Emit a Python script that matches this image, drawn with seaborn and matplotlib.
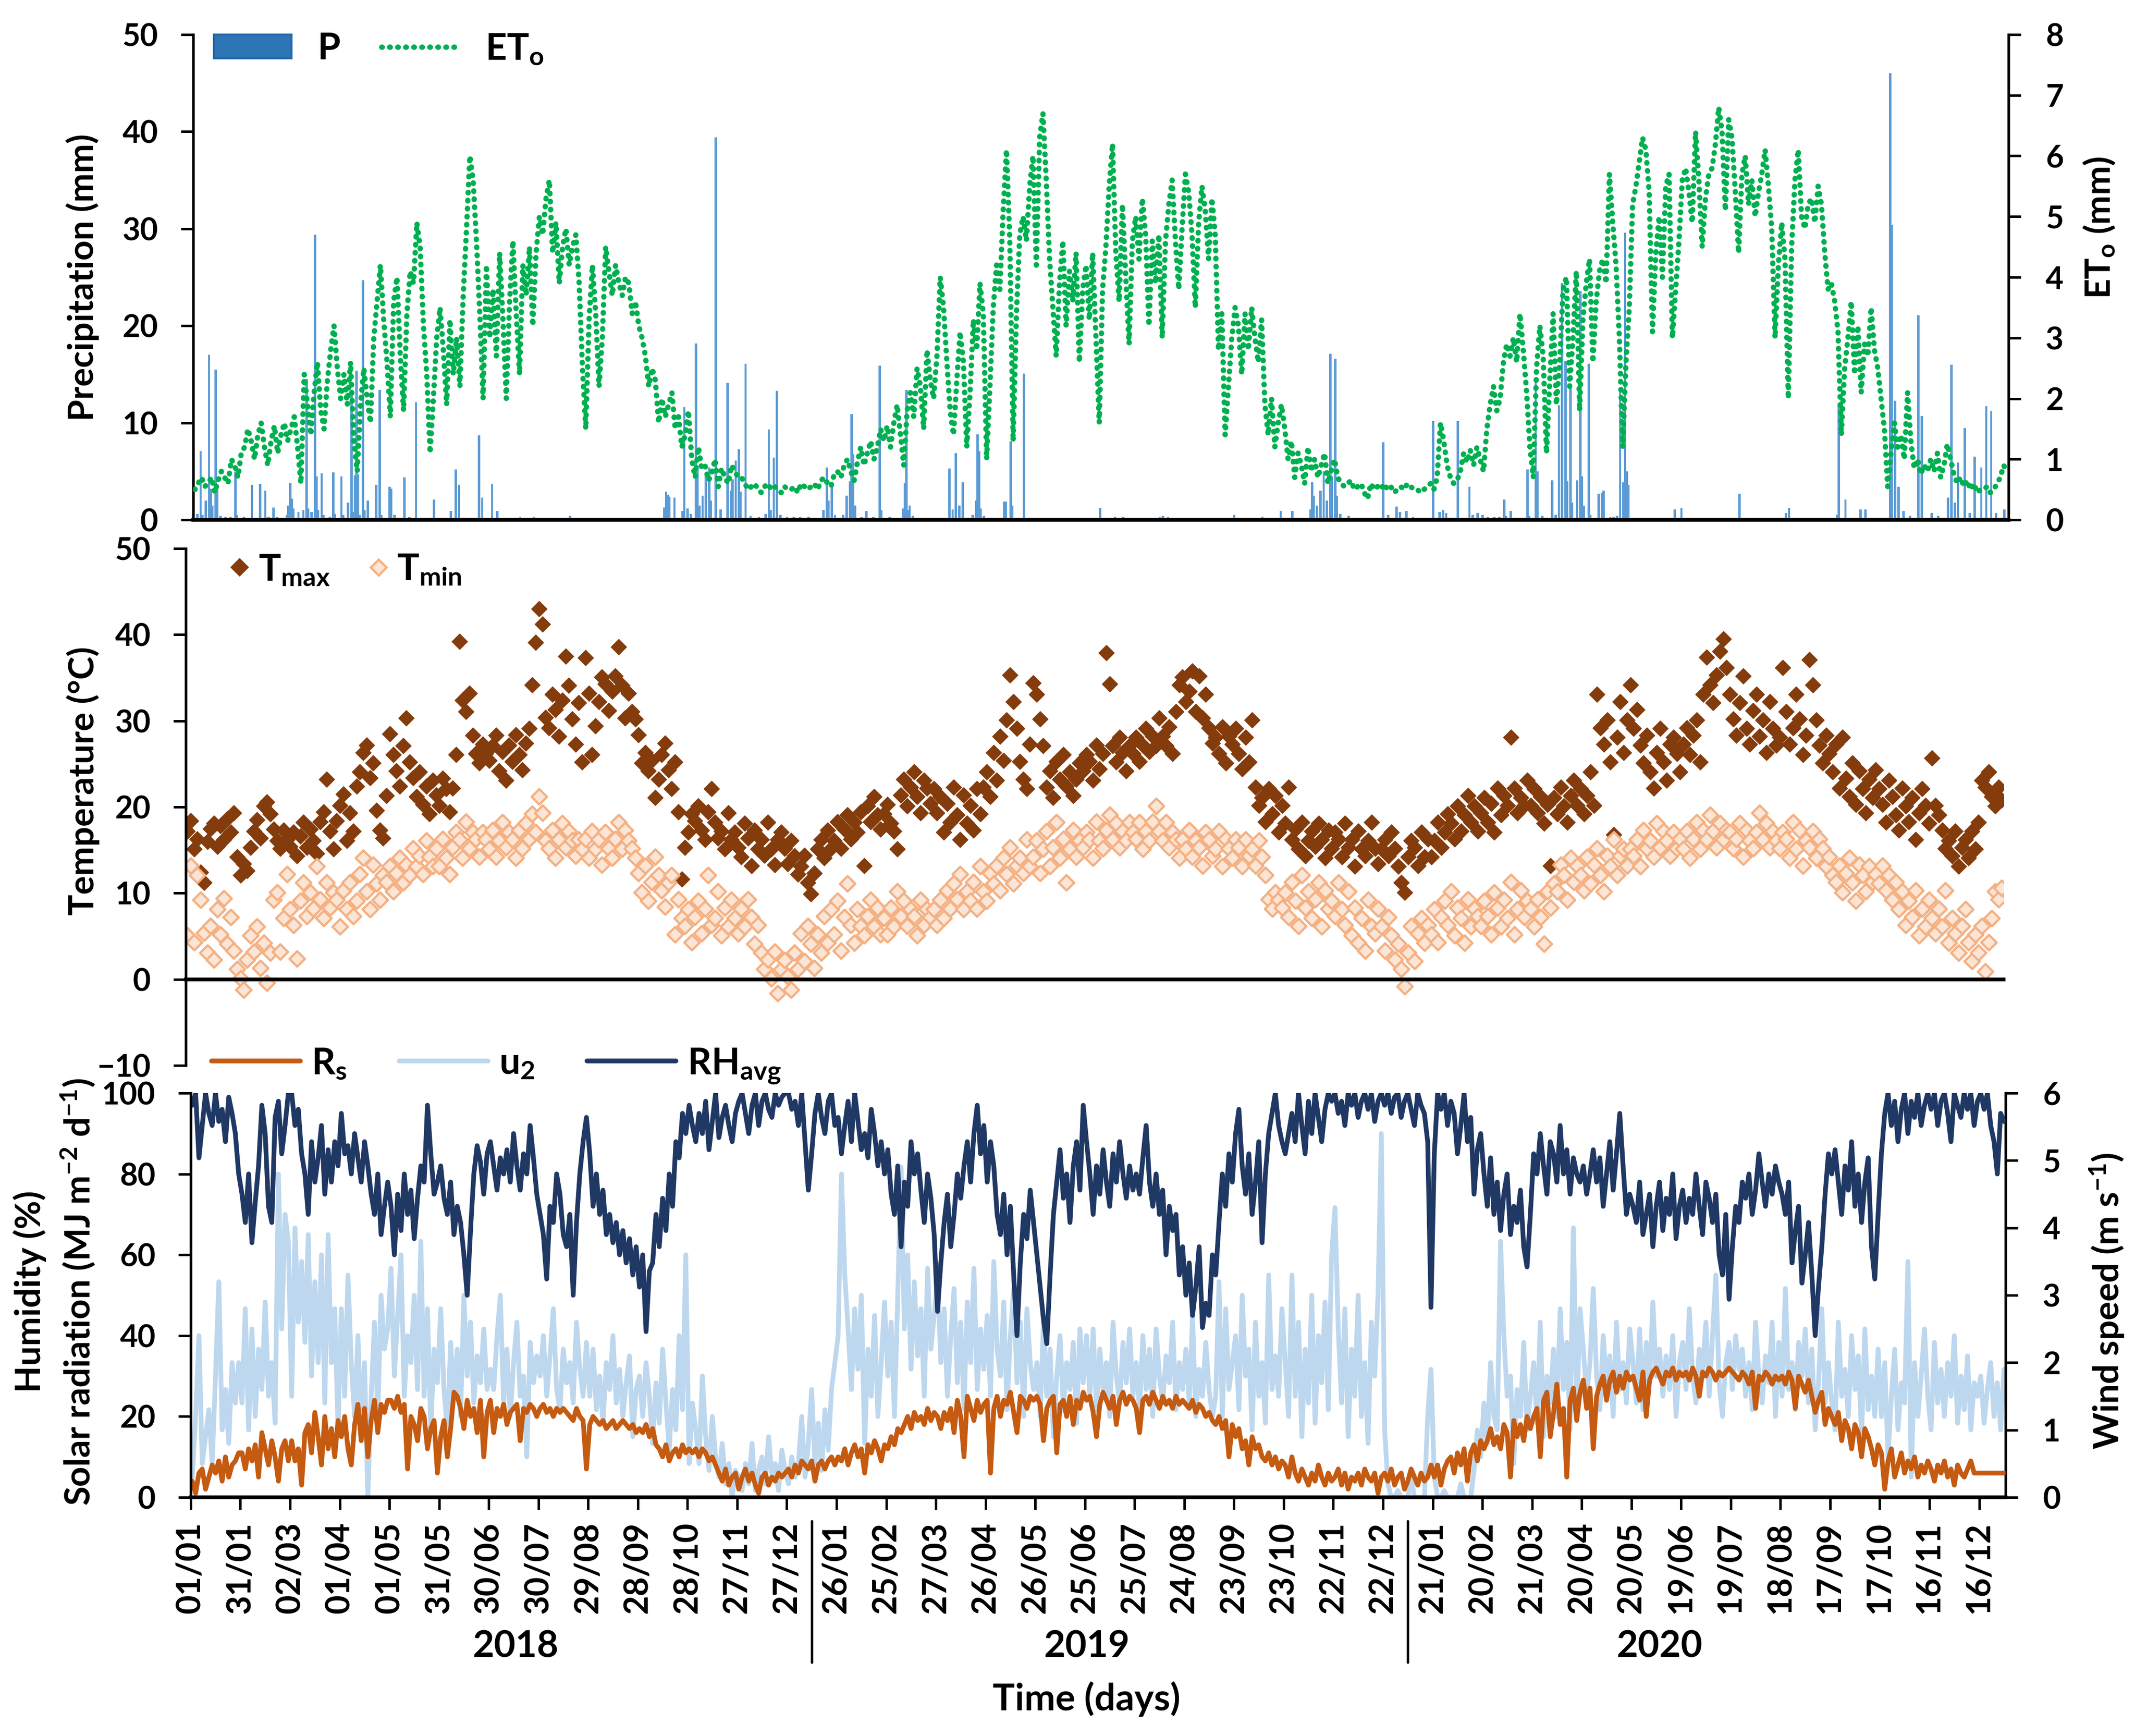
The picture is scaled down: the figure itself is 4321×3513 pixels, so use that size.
import numpy as np
import pandas as pd
import matplotlib
matplotlib.use("Agg")
import matplotlib.pyplot as plt
import matplotlib.transforms as mtransforms
from matplotlib.lines import Line2D
from matplotlib.patches import Patch
import seaborn as sns

# one value every 2 days, one row per 30-day tick interval (01/01/2018 - 31/12/2020)
eto = [
    0.5, 0.6, 0.7, 0.55, 0.6, 0.7, 0.45, 0.65, 0.8, 0.7, 0.6, 1.0, 0.9, 0.7, 1.1,
    1.2, 1.5, 1.3, 1.0, 1.4, 1.6, 1.2, 0.9, 1.3, 1.55, 1.1, 1.4, 1.6, 1.3, 1.5,
    1.7, 1.2, 0.6, 2.4, 1.9, 1.4, 2.1, 2.6, 1.8, 1.5, 2.3, 2.8, 3.2, 2.5, 2.0,
    2.4, 1.9, 2.6, 1.3, 0.8, 1.9, 2.5, 2.0, 1.6, 3.0, 3.6, 4.2, 3.3, 2.6, 1.7,
    3.6, 4.0, 2.7, 1.8, 3.4, 4.1, 3.9, 4.9, 4.5, 3.2, 2.4, 1.1, 2.0, 3.0, 3.5,
    2.8, 1.9, 3.3, 2.4, 3.0, 2.2, 3.7, 4.8, 6.0, 5.6, 4.6, 3.4, 2.0, 4.2, 3.0,
    3.8, 2.7, 4.4, 3.3, 2.0, 3.6, 4.6, 3.4, 2.4, 4.2, 3.7, 4.5, 3.2, 4.4, 5.0,
    4.7, 5.3, 5.6, 4.4, 4.9, 3.9, 4.5, 4.8, 4.2, 4.5, 4.7, 3.9, 2.5, 1.5, 3.3,
    4.2, 3.4, 2.2, 3.0, 4.5, 4.1, 3.7, 4.2, 3.9, 3.7, 4.0, 3.9, 3.4, 3.6, 3.2,
    3.0, 2.7, 2.2, 2.5, 2.3, 1.6, 2.0, 1.7, 1.9, 2.1, 1.5, 1.7, 1.2, 1.4, 1.8,
    1.0, 0.7, 1.2, 0.85, 0.9, 0.65, 0.75, 1.0, 0.55, 0.85, 0.7, 0.6, 0.9, 0.8, 0.7,
    0.7, 0.6, 0.5, 0.55, 0.6, 0.5, 0.45, 0.55, 0.6, 0.5, 0.55, 0.5, 0.45, 0.55, 0.5,
    0.5, 0.55, 0.45, 0.6, 0.55, 0.5, 0.55, 0.6, 0.5, 0.65, 0.7, 0.6, 0.55, 0.75, 0.8,
    0.7, 0.9, 1.0, 0.8, 0.65, 0.95, 1.2, 0.9, 1.1, 1.3, 1.0, 1.2, 1.5, 1.3, 1.55,
    1.2, 1.6, 1.9, 1.4, 0.9, 1.8, 2.1, 1.7, 2.5, 2.2, 1.5, 2.8, 2.3, 2.0, 2.7,
    4.0, 3.5, 2.6, 1.8, 1.4, 2.3, 3.1, 2.6, 1.2, 2.1, 3.3, 2.8, 3.9, 3.4, 1.0,
    2.2, 3.5, 4.2, 3.8, 5.1, 6.1, 4.6, 1.3, 3.4, 4.7, 5.0, 4.6, 5.5, 6.0, 4.2,
    6.3, 6.7, 5.6, 4.3, 3.5, 2.7, 3.9, 4.6, 3.2, 4.1, 3.6, 4.4, 2.6, 3.8, 4.2,
    3.3, 4.4, 3.0, 1.6, 3.8, 4.5, 5.5, 6.2, 4.4, 3.6, 5.2, 4.0, 2.9, 4.6, 5.0,
    4.3, 5.3, 4.7, 3.2, 4.6, 3.9, 4.7, 3.0, 4.6, 5.2, 5.6, 4.6, 3.8, 4.8, 5.7,
    5.4, 4.7, 3.5, 4.9, 5.5, 5.1, 4.3, 5.3, 4.7, 2.8, 3.4, 1.4, 2.2, 3.0, 3.5,
    3.2, 2.4, 3.4, 2.8, 3.5, 3.0, 2.6, 3.3, 1.9, 1.4, 2.0, 1.2, 1.6, 1.9, 1.5,
    1.0, 1.3, 0.7, 1.1, 0.9, 0.6, 1.2, 0.8, 1.0, 0.7, 0.9, 1.1, 0.6, 0.8, 1.0,
    0.7, 0.6, 0.55, 0.6, 0.65, 0.5, 0.55, 0.6, 0.45, 0.35, 0.6, 0.5, 0.55, 0.5, 0.6,
    0.5, 0.55, 0.45, 0.5, 0.55, 0.5, 0.6, 0.55, 0.5, 0.5, 0.45, 0.5, 0.55, 0.6, 0.5,
    0.7, 1.6, 1.3, 0.9, 0.7, 0.6, 0.65, 0.8, 1.1, 0.95, 1.15, 0.9, 1.2, 1.0, 0.8,
    1.5, 1.9, 2.2, 1.8, 2.0, 2.6, 2.9, 2.7, 3.0, 2.6, 3.4, 2.8, 2.1, 1.2, 0.7,
    2.5, 3.2, 2.7, 1.1, 2.3, 3.4, 1.9, 2.6, 3.8, 4.0, 2.2, 3.0, 4.1, 1.8, 3.3,
    3.9, 4.3, 2.6, 3.6, 4.1, 4.3, 3.9, 5.7, 4.9, 4.2, 3.0, 1.2, 2.6, 3.5, 5.2,
    5.5, 5.9, 6.3, 6.1, 5.4, 3.1, 4.4, 5.0, 4.0, 5.5, 5.7, 3.0, 3.8, 4.6, 5.6,
    5.8, 5.4, 4.9, 6.4, 5.6, 4.5, 5.3, 5.7, 5.8, 6.2, 6.8, 6.4, 5.1, 6.6, 6.3,
    5.4, 4.4, 5.7, 6.0, 5.2, 5.6, 5.0, 5.4, 5.7, 6.1, 5.5, 4.8, 3.0, 4.2, 4.9,
    4.3, 2.0, 4.5, 5.6, 6.1, 5.0, 4.8, 5.2, 5.3, 4.9, 5.5, 5.2, 4.4, 3.8, 3.9,
    3.6, 3.1, 1.4, 2.5, 3.0, 3.6, 2.4, 3.2, 2.1, 2.9, 2.7, 3.5, 2.8, 2.5, 2.0,
    1.5, 0.55, 1.1, 1.6, 1.2, 1.4, 1.0, 2.1, 1.3, 0.85, 1.0, 0.75, 0.9, 0.8, 1.0,
    0.8, 1.1, 0.7, 0.9, 1.25, 1.0, 0.75, 0.6, 0.7, 0.55, 0.65, 0.5, 0.6, 0.45, 0.5,
    0.5, 0.55, 0.45, 0.5, 0.6, 0.7, 0.9, 0.8,
]

tmax = [
    17.2, 18.4, 15.1, 16.3, 12.4, 11.2, 16.0, 17.5, 18.1, 15.4, 17.8, 16.2, 18.6, 17.1, 19.3,
    14.2, 12.1, 13.4, 12.6, 15.3, 17.2, 18.5, 16.4, 20.1, 20.6, 19.2, 17.4, 16.1, 15.2, 17.3,
    16.2, 15.4, 17.1, 14.3, 16.6, 18.2, 15.3, 17.4, 16.1, 14.6, 18.3, 19.4, 23.2, 17.2, 15.1,
    18.4, 20.2, 21.5, 16.1, 19.3, 17.2, 22.4, 24.1, 26.3, 27.2, 23.4, 25.1, 19.6, 17.3, 16.4,
    21.3, 28.5, 26.1, 24.2, 22.4, 27.1, 30.3, 25.2, 23.4, 21.2, 24.1, 20.3, 22.4, 19.2, 23.1,
    21.4, 20.2, 23.3, 22.1, 19.4, 22.2, 26.1, 39.2, 32.4, 31.1, 33.2, 28.3, 26.2, 25.1, 27.3,
    26.2, 25.4, 27.1, 28.3, 24.2, 26.4, 23.1, 27.2, 25.3, 28.4, 26.1, 24.3, 27.4, 29.1, 34.2,
    39.1, 43.0, 41.2, 30.4, 29.2, 33.1, 31.3, 28.2, 32.4, 37.5, 34.1, 30.2, 27.3, 32.1, 25.2,
    37.3, 33.2, 26.1, 29.4, 32.2, 35.1, 34.3, 31.2, 33.4, 35.2, 38.6, 34.1, 30.3, 33.2, 31.1,
    30.2, 28.4, 25.1, 26.3, 24.2, 25.4, 21.1, 23.2, 26.1, 27.4, 24.3, 22.1, 25.2, 19.4, 11.6,
    15.3, 17.1, 19.2, 18.4, 20.1, 17.3, 16.2, 19.4, 22.1, 18.2, 16.4, 17.2, 15.1, 19.3, 16.2,
    17.1, 15.3, 14.2, 18.1, 16.4, 13.2, 17.3, 15.1, 16.2, 14.4, 18.2, 15.1, 13.3, 16.2, 17.1,
    15.2, 13.4, 16.1, 14.3, 12.2, 13.1, 14.4, 11.2, 9.9, 12.3, 15.1, 16.2, 14.1, 17.3, 15.2,
    16.1, 18.3, 15.2, 17.4, 19.1, 16.3, 18.2, 17.1, 19.4, 13.2, 20.1, 18.3, 21.2, 19.1, 17.4,
    19.2, 20.3, 18.1, 17.2, 15.1, 21.4, 23.2, 20.1, 22.3, 24.1, 21.2, 19.3, 23.1, 22.2, 20.4,
    22.1, 19.3, 21.2, 17.1, 20.4, 18.2, 22.3, 19.1, 16.2, 21.4, 18.1, 20.2, 17.3, 22.1, 19.2,
    22.3, 24.1, 21.2, 26.3, 23.1, 28.2, 25.4, 30.1, 35.3, 32.2, 29.1, 25.3, 23.2, 22.1, 27.3,
    34.4, 33.1, 30.2, 27.1, 22.3, 24.2, 21.1, 25.3, 23.2, 26.1, 22.4, 24.1, 21.3, 23.2, 25.1,
    24.2, 26.1, 25.3, 23.1, 27.2, 24.4, 26.2, 37.9, 34.3, 27.1, 25.2, 28.1, 26.3, 24.2, 27.1,
    26.2, 28.1, 25.3, 27.2, 29.1, 26.4, 28.2, 27.1, 30.3, 28.2, 27.1, 29.3, 26.2, 31.1, 34.2,
    35.1, 32.2, 33.4, 35.8, 31.1, 35.2, 30.3, 33.1, 29.2, 27.4, 28.1, 26.2, 29.3, 25.1, 28.2,
    27.3, 29.1, 26.2, 24.4, 28.1, 25.2, 30.1, 22.3, 20.2, 21.1, 18.3, 22.1, 19.2, 21.3, 17.1,
    20.2, 18.1, 22.3, 16.2, 17.4, 15.1, 18.2, 14.3, 16.1, 17.2, 15.4, 18.1, 16.2, 14.1, 17.3,
    15.2, 17.1, 16.3, 14.2, 18.1, 15.3, 16.2, 13.1, 17.2, 15.1, 14.3, 16.1, 18.2, 15.2, 13.4,
    15.1, 16.2, 14.3, 17.1, 15.2, 13.1, 11.2, 10.1, 14.2, 16.1, 15.3, 13.2, 17.1, 14.2, 16.3,
    14.2, 16.1, 18.2, 15.3, 17.1, 19.2, 18.1, 16.3, 20.1, 17.2, 19.1, 21.3, 18.2, 20.1, 17.2,
    19.3, 21.1, 18.2, 20.4, 17.1, 22.2, 19.1, 21.3, 20.2, 28.1, 22.2, 19.3, 21.1, 20.2, 23.1,
    20.2, 22.1, 19.3, 21.2, 18.1, 20.3, 13.2, 21.1, 19.2, 22.3, 20.1, 18.2, 21.3, 23.1, 20.2,
    22.1, 19.2, 21.3, 24.1, 20.2, 33.1, 29.2, 27.3, 30.1, 25.2, 16.8, 28.1, 32.2, 26.3, 30.1,
    34.2, 29.1, 31.3, 27.2, 25.1, 28.3, 24.1, 22.2, 26.3, 29.1, 25.2, 23.1, 27.3, 28.1, 26.2,
    24.1, 27.3, 29.2, 26.1, 28.3, 30.1, 25.2, 33.1, 37.4, 34.2, 32.1, 35.3, 38.1, 39.5, 36.2,
    33.1, 30.2, 28.3, 32.1, 35.2, 29.1, 27.3, 31.2, 33.1, 28.2, 30.1, 26.3, 32.2, 29.1, 27.2,
    28.1, 36.2, 31.1, 27.3, 29.2, 33.1, 30.2, 26.1, 28.3, 37.1, 34.2, 30.1, 27.2, 25.1, 28.3,
    26.2, 24.1, 27.3, 22.2, 28.1, 23.3, 21.2, 25.1, 20.3, 24.2, 22.1, 19.3, 23.2, 21.1, 24.3,
    22.1, 20.3, 18.2, 23.1, 21.2, 19.1, 17.3, 22.2, 20.1, 18.3, 21.1, 16.2, 19.3, 22.1, 20.2,
    18.1, 25.7, 20.2, 19.1, 17.3, 15.2, 16.1, 14.3, 17.2, 13.1, 15.3, 16.2, 14.1, 17.2, 15.1,
    18.2, 23.1, 22.3, 24.1, 21.2, 20.1, 22.3, 20.8,
]

tmin = [
    5.1, 13.2, 4.3, 12.1, 9.2, 5.4, 3.1, 6.2, 2.3, 8.1, 5.2, 9.4, 4.1, 7.2, 3.3,
    1.2, 0.1, -1.2, 2.3, 5.1, 3.2, 6.1, 1.3, 4.2, -0.4, 3.1, 9.2, 10.1, 3.2, 7.1,
    12.2, 8.1, 6.3, 2.4, 9.1, 11.2, 7.3, 10.1, 8.2, 13.1, 9.3, 7.1, 11.2, 8.3, 10.1,
    9.2, 6.1, 10.3, 8.1, 11.2, 7.3, 9.1, 12.2, 14.1, 10.2, 8.1, 13.3, 11.1, 9.2, 12.1,
    11.3, 13.1, 10.2, 12.3, 14.1, 11.2, 13.3, 12.1, 15.2, 13.1, 14.3, 12.2, 16.1, 14.2, 13.1,
    15.2, 13.1, 16.3, 14.1, 12.2, 15.3, 17.1, 16.2, 14.1, 18.3, 15.2, 17.1, 16.3, 14.2, 17.1,
    16.2, 15.1, 17.3, 14.2, 16.1, 18.2, 15.3, 17.1, 16.2, 14.1, 17.3, 15.2, 18.1, 16.3, 19.2,
    17.1, 21.2, 19.3, 16.1, 15.2, 17.3, 14.1, 16.2, 18.1, 15.3, 17.2, 16.1, 14.3, 16.2, 15.1,
    16.3, 14.1, 17.2, 15.1, 16.2, 13.3, 17.1, 15.2, 14.1, 16.3, 18.2, 15.1, 17.3, 16.1, 15.2,
    14.1, 12.3, 10.1, 13.2, 9.1, 11.3, 14.2, 12.1, 10.3, 8.4, 11.2, 12.1, 5.2, 9.3, 7.1,
    6.2, 8.1, 4.3, 7.2, 9.1, 5.3, 8.2, 12.1, 6.3, 7.1, 10.2, 5.1, 8.3, 6.1, 9.2,
    7.1, 5.3, 8.2, 6.1, 9.3, 7.2, 4.1, 6.3, 3.1, 1.2, 2.3, 0.1, 3.2, -1.6, 1.1,
    2.2, 0.3, -1.2, 3.1, 1.2, 5.3, 2.1, 6.2, 4.1, 1.3, 5.2, 3.1, 7.3, 4.2, 8.1,
    5.2, 9.1, 3.3, 7.2, 11.1, 6.3, 4.2, 8.1, 6.2, 5.1, 7.3, 9.2, 6.1, 8.3, 5.2,
    7.1, 5.2, 8.3, 6.1, 10.2, 7.3, 9.1, 6.2, 8.1, 7.3, 5.1, 9.2, 6.3, 8.1, 7.2,
    8.1, 6.3, 9.2, 7.1, 10.3, 8.2, 11.1, 9.3, 12.2, 8.1, 10.2, 9.1, 11.3, 8.2, 13.1,
    10.2, 9.1, 12.3, 11.1, 13.2, 10.3, 14.1, 12.2, 15.3, 11.1, 13.2, 14.1, 12.3, 16.2, 13.1,
    14.2, 16.1, 12.3, 15.1, 17.2, 13.1, 15.3, 18.2, 14.1, 16.3, 11.2, 15.1, 17.3, 14.2, 16.1,
    15.3, 17.1, 16.2, 14.1, 18.3, 16.1, 15.2, 17.3, 19.1, 16.2, 18.1, 15.3, 17.2, 16.1, 18.2,
    17.1, 16.3, 18.2, 15.1, 17.2, 16.1, 18.3, 20.1, 17.2, 16.1, 18.2, 15.3, 17.1, 16.2, 14.1,
    16.2, 15.1, 17.3, 14.2, 16.1, 15.3, 13.2, 17.1, 16.2, 14.3, 15.1, 17.2, 13.1, 16.3, 15.2,
    14.1, 16.2, 15.3, 13.1, 16.2, 14.3, 15.1, 13.2, 16.1, 14.2, 12.1, 9.3, 8.2, 10.1, 9.2,
    8.3, 10.1, 7.2, 11.3, 9.1, 6.2, 12.1, 8.3, 10.2, 7.1, 9.3, 11.2, 6.1, 10.3, 8.2,
    9.1, 7.3, 11.2, 8.1, 6.3, 10.2, 5.1, 8.3, 4.2, 7.1, 3.3, 9.2, 6.1, 5.3, 8.2,
    6.1, 3.3, 7.2, 5.1, 2.3, 4.1, 1.2, -0.8, 3.1, 6.2, 2.1, 5.3, 7.1, 4.2, 6.3,
    5.2, 8.1, 4.3, 7.2, 9.1, 6.3, 10.2, 5.1, 8.3, 7.1, 4.2, 9.3, 6.1, 8.2, 7.3,
    6.2, 9.1, 7.3, 5.2, 10.1, 8.3, 6.1, 9.2, 7.1, 11.3, 5.2, 8.1, 10.3, 7.2, 9.1,
    8.2, 6.1, 9.3, 7.2, 4.1, 10.2, 8.3, 11.1, 10.2, 13.3, 12.1, 9.2, 14.1, 11.3, 13.2,
    12.1, 10.3, 14.2, 11.1, 13.3, 15.2, 12.1, 10.2, 14.3, 13.1, 16.2, 12.1, 14.3, 15.1, 13.2,
    15.1, 14.3, 16.2, 13.1, 17.3, 15.2, 16.1, 14.2, 18.1, 15.3, 17.2, 16.1, 14.3, 17.1, 15.2,
    16.3, 15.1, 17.2, 14.1, 16.3, 18.2, 15.1, 17.3, 16.2, 19.1, 17.2, 15.3, 18.1, 16.2, 17.3,
    17.1, 15.2, 16.3, 18.1, 14.2, 17.3, 16.1, 15.2, 17.1, 19.3, 16.2, 18.1, 15.3, 17.2, 16.1,
    15.2, 17.1, 16.3, 14.1, 18.2, 15.1, 17.3, 13.2, 16.1, 15.3, 17.2, 14.1, 16.3, 15.2, 13.1,
    14.2, 12.1, 11.3, 13.2, 10.1, 12.3, 14.1, 11.2, 9.1, 13.3, 12.1, 10.2, 13.1, 11.3, 12.2,
    11.1, 13.2, 10.3, 12.1, 9.2, 11.3, 8.1, 10.2, 6.3, 9.1, 7.2, 10.3, 5.1, 8.2, 6.1,
    9.2, 7.1, 5.3, 8.2, 6.1, 10.3, 4.2, 7.1, 5.3, 3.1, 6.2, 8.1, 4.3, 2.1, 5.2,
    3.1, 6.2, 0.9, 4.3, 7.1, 10.2, 9.3, 10.6,
]

rh = [
    97, 100, 84, 92, 100, 95, 92, 100, 93, 96, 88, 99, 95, 90, 80,
    75, 68, 80, 63, 73, 82, 97, 90, 72, 68, 94, 98, 85, 92, 100,
    100, 92, 96, 85, 80, 70, 88, 78, 84, 92, 75, 86, 78, 88, 82,
    95, 85, 87, 80, 90, 84, 78, 88, 82, 75, 70, 80, 65, 72, 78,
    72, 60, 75, 66, 80, 70, 76, 64, 74, 82, 78, 97, 85, 75, 78,
    82, 74, 70, 78, 65, 72, 68, 60, 50, 66, 80, 87, 83, 75, 85,
    88, 82, 76, 84, 80, 86, 78, 90, 82, 76, 85, 80, 92, 84, 75,
    70, 65, 54, 72, 68, 80, 75, 65, 62, 70, 50, 68, 80, 88, 94,
    85, 72, 80, 70, 76, 65, 70, 63, 68, 60, 66, 58, 64, 55, 62,
    52, 60, 41, 56, 58, 70, 62, 74, 66, 80, 72, 88, 84, 95, 90,
    97, 92, 88, 95, 90, 98, 86, 93, 100, 89, 94, 97, 92, 88, 95,
    98, 100, 95, 90, 97, 100, 92, 98, 100, 96, 94, 100, 97, 99, 100,
    100, 96, 98, 92, 100, 88, 76, 85, 95, 100, 94, 90, 98, 100, 92,
    94, 85, 92, 98, 88, 100, 93, 86, 90, 84, 96, 90, 82, 88, 80,
    86, 75, 70, 82, 62, 78, 72, 88, 80, 85, 76, 68, 80, 74, 65,
    46, 58, 68, 75, 62, 70, 80, 74, 82, 88, 78, 90, 97, 85, 92,
    78, 88, 82, 70, 65, 75, 60, 72, 55, 40, 58, 70, 64, 76, 68,
    60, 52, 44, 38, 55, 70, 78, 86, 74, 80, 68, 82, 88, 76, 97,
    88, 80, 70, 82, 75, 86, 78, 72, 85, 78, 88, 80, 74, 82, 76,
    80, 75, 84, 92, 78, 72, 80, 70, 76, 60, 72, 66, 70, 55, 62,
    50, 58, 45, 52, 62, 42, 48, 45, 60, 55, 68, 80, 72, 85, 78,
    90, 96, 82, 75, 85, 70, 78, 88, 63, 80, 90, 95, 100, 92, 88,
    85, 90, 95, 88, 100, 92, 85, 98, 90, 100, 94, 88, 96, 100, 98,
    100, 95, 98, 92, 100, 97, 100, 94, 98, 100, 96, 100, 93, 98, 100,
    97, 100, 95, 99, 100, 94, 98, 100, 96, 92, 100, 97, 95, 88, 47,
    85, 100, 96, 100, 92, 98, 95, 85, 92, 100, 88, 94, 75, 86, 90,
    80, 72, 84, 70, 78, 66, 75, 80, 65, 72, 68, 76, 62, 57, 70,
    85, 80, 90, 82, 75, 88, 85, 78, 92, 80, 86, 75, 84, 80, 78,
    82, 75, 80, 86, 78, 84, 72, 80, 88, 76, 85, 95, 82, 70, 75,
    72, 68, 78, 65, 70, 75, 62, 72, 78, 66, 74, 70, 80, 64, 72,
    76, 68, 74, 70, 80, 72, 65, 78, 74, 68, 75, 60, 55, 70, 49,
    62, 72, 68, 78, 74, 80, 70, 76, 85, 78, 72, 80, 75, 82, 78,
    75, 70, 78, 58, 66, 72, 53, 60, 68, 55, 40, 52, 62, 75, 85,
    80, 86, 78, 70, 82, 76, 88, 72, 80, 68, 78, 84, 62, 54, 70,
    85, 95, 100, 92, 98, 88, 96, 100, 90, 98, 94, 100, 92, 97, 100,
    96, 100, 92, 98, 100, 95, 88, 100, 97, 94, 100, 96, 100, 92, 98,
    100, 96, 100, 92, 88, 80, 95, 93,
]

rs = [
    4, 1, 6, 7, 2, 5, 8, 6, 9, 4, 10, 5, 8, 9, 11,
    11, 7, 12, 9, 13, 5, 16, 12, 8, 14, 10, 4, 12, 14, 9,
    14, 9, 12, 3, 16, 18, 11, 21, 15, 8, 20, 12, 17, 10, 19,
    15, 20, 12, 8, 18, 23, 14, 22, 10, 19, 24, 16, 23, 21, 24,
    24, 22, 25, 21, 23, 7, 20, 18, 14, 22, 20, 12, 17, 19, 6,
    15, 19, 10, 17, 26, 25, 22, 17, 24, 20, 22, 16, 24, 10, 21,
    24, 16, 22, 20, 23, 18, 21, 22, 23, 14, 22, 21, 23, 22, 20,
    22, 23, 21, 22, 20, 22, 21, 22, 21, 20, 19, 22, 20, 19, 7,
    18, 20, 19, 18, 19, 17, 18, 19, 17, 18, 19, 18, 17, 18, 16,
    17, 16, 18, 15, 17, 13, 12, 10, 13, 9, 11, 12, 10, 13, 11,
    12, 11, 12, 10, 12, 11, 9, 10, 8, 6, 4, 7, 3, 5, 6,
    2, 5, 7, 4, 6, 3, 1, 5, 6, 3, 5, 4, 6, 5, 6,
    7, 5, 8, 6, 9, 8, 7, 9, 4, 8, 9, 7, 9, 10, 8,
    10, 9, 12, 8, 11, 13, 10, 12, 6, 13, 11, 14, 12, 9, 13,
    12, 15, 13, 17, 16, 18, 20, 17, 21, 19, 20, 18, 22, 19, 21,
    20, 17, 21, 19, 22, 16, 24, 20, 10, 25, 22, 19, 24, 21, 23,
    24, 6, 22, 25, 20, 24, 23, 26, 21, 16, 25, 24, 22, 25, 24,
    25, 23, 14, 22, 24, 25, 11, 23, 24, 20, 25, 18, 24, 22, 26,
    24, 25, 21, 15, 23, 26, 24, 22, 25, 18, 24, 26, 23, 25, 24,
    22, 16, 24, 25, 23, 26, 24, 22, 25, 23, 24, 22, 25, 23, 24,
    23, 22, 24, 21, 23, 22, 20, 21, 19, 18, 20, 17, 19, 10, 18,
    15, 17, 12, 14, 8, 15, 12, 13, 10, 9, 11, 8, 10, 7, 9,
    8, 5, 10, 6, 4, 7, 5, 3, 6, 4, 8, 5, 3, 6, 4,
    5, 7, 3, 6, 2, 5, 4, 6, 3, 7, 5, 4, 6, 1, 5,
    6, 4, 7, 3, 5, 6, 2, 4, 7, 5, 3, 6, 4, 5, 8,
    5, 8, 3, 7, 9, 10, 6, 11, 8, 12, 4, 11, 13, 9, 14,
    12, 14, 17, 13, 15, 12, 18, 16, 5, 19, 15, 18, 14, 20, 17,
    20, 22, 10, 24, 26, 15, 21, 28, 18, 22, 5, 24, 27, 19, 26,
    29, 22, 27, 12, 25, 28, 30, 24, 29, 31, 26, 30, 27, 31, 29,
    30, 27, 24, 31, 20, 29, 31, 32, 30, 28, 31, 30, 32, 29, 31,
    30, 31, 29, 32, 30, 25, 31, 30, 32, 31, 29, 31, 30, 31, 32,
    31, 30, 29, 31, 30, 28, 31, 22, 30, 29, 31, 30, 28, 30, 29,
    30, 28, 31, 29, 22, 30, 28, 26, 29, 25, 21, 24, 26, 18, 22,
    20, 18, 21, 14, 19, 17, 12, 18, 16, 10, 17, 15, 12, 8, 13,
    11, 2, 9, 12, 5, 8, 11, 6, 9, 7, 10, 5, 8, 6, 9,
    7, 4, 8, 6, 9, 5, 7, 3, 8, 6, 5, 7, 9, 6, 6,
    6, 6, 6, 6, 6, 6, 6, 6,
]

u2 = [
    0.3, 1.2, 2.4, 0.5, 0.9, 1.3, 0.5, 1.8, 3.2, 1.0, 1.6, 0.8, 2.0, 1.4, 2.0,
    1.4, 2.8, 1.0, 2.5, 1.2, 2.2, 1.6, 2.9, 1.5, 2.0, 1.1, 4.8, 2.5, 4.2, 3.8,
    1.5, 4.0, 2.6, 3.5, 2.3, 3.9, 1.8, 3.2, 2.0, 3.6, 1.4, 3.9, 2.0, 2.8, 1.0,
    2.8, 1.5, 3.3, 2.0, 1.2, 2.4, 1.0, 2.0, 0.0, 1.5, 2.6, 1.2, 3.0, 2.2, 2.5,
    3.4, 1.8, 2.7, 3.6, 1.5, 2.4, 2.0, 3.0, 1.6, 3.8, 1.5, 2.8, 1.0, 2.2, 1.7,
    2.8, 1.6, 1.0, 2.3, 1.5, 2.2, 1.2, 3.0, 1.8, 2.6, 1.4, 2.1, 1.7, 2.5, 1.6,
    1.9, 1.6, 2.4, 3.0, 1.4, 2.2, 1.2, 2.0, 2.6, 1.5, 1.8, 0.6, 2.3, 1.7, 2.1,
    1.8, 2.4, 1.5, 2.1, 2.8, 1.6, 1.3, 2.2, 1.7, 2.0, 1.4, 2.6, 1.9, 1.5, 2.3,
    1.5, 2.2, 1.3, 1.8, 1.1, 2.0, 1.6, 2.4, 1.4, 1.9, 1.2, 1.7, 2.1, 0.9, 1.6,
    1.8, 1.2, 2.0, 1.5, 0.8, 1.7, 1.1, 2.2, 1.4, 0.7, 1.6, 1.0, 2.4, 1.3, 3.6,
    0.5, 1.4, 1.0, 0.5, 1.8, 0.9, 0.4, 1.2, 0.6, 0.3, 0.8, 0.2, 0.5, 0.0, 0.4,
    0.3, 0.1, 0.5, 0.2, 0.8, 0.1, 0.4, 0.6, 0.2, 0.9, 0.3, 0.5, 0.1, 0.7, 0.4,
    0.2, 0.6, 0.3, 0.5, 1.2, 0.3, 0.8, 1.6, 0.5, 1.1, 0.4, 1.3, 0.7, 1.6, 2.0,
    2.4, 4.8, 3.3, 2.5, 1.6, 2.8, 1.9, 3.0, 0.8, 2.2, 1.5, 2.7, 1.2, 2.0, 2.9,
    1.8, 2.6, 1.2, 3.0, 4.9, 2.5, 3.6, 1.9, 3.2, 2.1, 2.8, 1.5, 3.4, 2.2, 2.7,
    3.3, 2.0, 2.8, 1.5, 2.4, 3.1, 1.7, 2.6, 1.3, 2.9, 2.0, 3.4, 1.6, 2.5, 1.9,
    2.7, 1.5, 3.5, 2.2, 1.8, 2.9, 1.3, 2.4, 3.1, 1.7, 2.6, 1.2, 2.8, 2.0, 1.6,
    2.0, 1.2, 2.6, 1.5, 2.2, 0.9, 1.8, 2.4, 1.3, 2.0, 1.6, 2.3, 1.1, 2.5, 1.7,
    2.4, 1.5, 2.5, 1.3, 2.2, 1.6, 2.0, 1.2, 2.6, 1.8, 1.4, 2.3, 1.7, 2.5, 1.5,
    2.0, 1.3, 2.4, 1.6, 2.2, 1.2, 2.5, 1.8, 1.4, 2.1, 1.7, 2.6, 1.3, 2.0, 1.6,
    2.2, 1.4, 2.7, 1.2, 1.9, 1.5, 2.3, 1.6, 1.2, 1.5, 3.2, 1.2, 2.8, 1.6, 2.0,
    2.4, 1.3, 3.0, 1.8, 2.2, 1.0, 2.6, 1.5, 2.0, 1.1, 3.3, 1.6, 2.1, 1.5, 2.8,
    2.0, 1.2, 3.3, 1.5, 2.6, 0.9, 2.2, 1.4, 3.0, 1.1, 2.4, 1.7, 2.9, 1.3, 3.6,
    4.3, 2.5, 1.4, 2.8, 0.9, 2.2, 1.5, 3.0, 1.2, 2.0, 0.8, 2.6, 1.8, 3.0, 5.4,
    1.0, 0.2, 0.0, 0.0, 0.1, 0.0, 0.0, 0.0, 0.3, 0.0, 0.0, 0.0, 0.0, 1.2, 1.9,
    0.3, 0.0, 0.0, 0.1, 0.0, 0.0, 0.0, 0.0, 0.2, 0.0, 0.0, 0.0, 0.4, 1.0, 0.6,
    1.4, 0.8, 2.0, 1.2, 1.0, 3.8, 2.4, 1.5, 1.8, 0.5, 1.6, 1.2, 2.3, 1.0, 1.5,
    2.0, 1.1, 2.6, 0.9, 1.8, 1.4, 2.2, 1.2, 2.8, 1.6, 2.3, 1.0, 4.0, 1.2, 2.8,
    2.2, 1.5, 2.0, 3.1, 1.8, 1.3, 2.4, 1.7, 2.1, 1.2, 2.6, 1.6, 2.0, 1.4, 2.5,
    2.0, 1.4, 2.5, 1.3, 2.3, 1.7, 2.9, 1.8, 2.2, 1.5, 2.1, 1.6, 2.4, 1.2, 2.0,
    2.3, 1.6, 2.8, 1.8, 1.4, 2.2, 1.9, 2.6, 1.5, 2.4, 3.3, 1.7, 1.2, 2.0, 2.3,
    1.6, 2.4, 1.9, 2.2, 1.5, 2.0, 1.3, 2.6, 1.8, 1.4, 2.1, 1.7, 2.6, 1.2, 2.3,
    1.5, 3.1, 1.6, 2.0, 1.3, 2.3, 1.8, 2.5, 1.4, 2.2, 1.0, 1.7, 2.8, 1.4, 2.0,
    1.4, 1.0, 2.6, 1.5, 1.9, 1.2, 2.4, 1.6, 2.1, 0.9, 2.5, 1.3, 1.8, 1.2, 2.2,
    1.2, 2.0, 0.6, 1.5, 2.2, 1.0, 1.7, 1.4, 3.5, 0.3, 2.0, 1.2, 1.8, 2.5, 1.5,
    1.0, 2.3, 1.4, 1.9, 1.2, 2.0, 1.5, 2.4, 1.1, 1.8, 1.3, 2.1, 1.0, 1.7, 1.5,
    1.8, 1.1, 1.6, 2.0, 1.2, 1.7, 1.0, 1.9,
]

# rainy days (day index from 01/01/2018) and daily precipitation (mm)
p_day = [
    2, 4, 5, 7, 9, 10, 11, 13, 14, 16, 19, 22, 25, 26, 30, 35, 40, 43, 45, 48,
    50, 56, 57, 58, 59, 60, 63, 66, 68, 69, 71, 73, 74, 75, 77, 78, 82, 84, 85, 89,
    90, 93, 95, 96, 97, 98, 99, 100, 102, 103, 105, 110, 112, 113, 118, 119, 121, 127, 130, 134,
    145, 155, 158, 160, 172, 174, 180, 183, 197, 205, 227, 284, 285, 286, 287, 290, 295, 296, 298, 300,
    303, 304, 305, 307, 309, 311, 312, 315, 318, 322, 324, 325, 327, 329, 330, 333, 336, 341, 345, 347,
    348, 350, 352, 354, 358, 362, 366, 371, 380, 382, 383, 385, 387, 392, 394, 396, 397, 398, 399, 403,
    406, 410, 414, 415, 420, 428, 429, 430, 431, 432, 434, 456, 458, 460, 462, 464, 470, 472, 473, 474,
    475, 477, 489, 490, 493, 494, 501, 547, 556, 561, 583, 585, 588, 628, 645, 656, 663, 674, 675, 676,
    678, 680, 682, 684, 686, 687, 689, 690, 692, 697, 718, 721, 726, 728, 732, 736, 748, 752, 754, 756,
    763, 770, 772, 775, 778, 781, 785, 788, 791, 792, 795, 805, 806, 810, 811, 814, 820, 822, 824, 826,
    828, 829, 831, 832, 835, 837, 838, 839, 842, 843, 848, 850, 851, 855, 857, 859, 861, 863, 864, 865,
    866, 894, 898, 933, 942, 956, 961, 963, 992, 993, 997, 1006, 1009, 1024, 1025, 1027, 1029, 1032, 1036, 1041,
    1043, 1049, 1053, 1059, 1061, 1063, 1065, 1069, 1072, 1075, 1079, 1082, 1085, 1088, 1093,
]
p_mm = [
    0.6, 7.1, 0.5, 2.0, 17.0, 3.2, 1.5, 15.5, 3.5, 0.4, 0.3, 0.3, 5.0, 0.5, 0.3, 3.6, 3.7, 3.0, 0.3, 1.3,
    0.3, 0.5, 1.5, 3.8, 2.2, 1.2, 0.8, 1.0, 14.5, 1.2, 0.8, 29.4, 4.5, 1.0, 4.8, 0.5, 0.3, 4.9, 0.6, 4.5,
    0.5, 1.8, 13.2, 0.8, 4.6, 15.4, 4.7, 0.5, 24.7, 1.0, 2.0, 3.6, 13.4, 0.5, 3.4, 3.2, 0.5, 4.4, 0.3, 12.1,
    2.1, 0.9, 5.2, 3.6, 8.7, 2.3, 3.7, 0.9, 0.3, 0.3, 0.4, 1.3, 2.9, 2.6, 2.4, 2.3, 0.9, 11.6, 1.2, 0.6,
    18.2, 5.3, 1.5, 2.5, 4.8, 5.4, 2.0, 39.4, 1.1, 14.1, 3.0, 4.2, 6.1, 7.3, 2.9, 16.1, 0.4, 0.3, 0.6, 9.3,
    1.0, 6.4, 13.3, 0.5, 0.3, 0.3, 0.3, 0.3, 1.0, 5.4, 2.0, 3.5, 0.5, 0.5, 2.5, 4.0, 10.9, 6.8, 1.5, 0.3,
    0.9, 0.3, 15.9, 1.0, 0.3, 1.2, 3.8, 13.4, 1.0, 1.5, 0.4, 5.3, 1.1, 6.9, 1.5, 3.9, 0.5, 2.0, 8.8, 7.1,
    1.2, 0.4, 1.9, 1.9, 8.1, 1.5, 15.1, 1.25, 0.3, 0.3, 0.3, 0.4, 0.3, 0.5, 0.3, 0.9, 0.9, 1.1, 3.9, 2.5,
    1.5, 3.0, 5.0, 2.0, 17.1, 4.5, 16.6, 2.5, 0.6, 0.4, 8.0, 0.5, 1.4, 0.8, 0.9, 0.3, 10.2, 0.8, 1.0, 0.7,
    10.2, 3.4, 0.5, 0.7, 0.5, 0.3, 0.3, 0.3, 2.1, 0.4, 0.9, 5.2, 0.4, 14.6, 5.0, 0.4, 4.1, 0.5, 11.8, 24.4,
    16.4, 4.0, 13.6, 1.8, 4.1, 23.6, 4.5, 1.5, 16.1, 0.5, 2.7, 2.8, 3.0, 0.3, 0.3, 0.4, 13.3, 3.9, 29.6, 5.0,
    3.6, 1.1, 1.25, 2.7, 0.2, 0.2, 0.7, 1.25, 0.5, 12.0, 2.1, 1.1, 1.1, 46.0, 30.4, 12.3, 3.4, 0.9, 0.4, 21.1,
    10.7, 0.7, 0.4, 2.3, 16.0, 1.8, 5.9, 9.5, 0.7, 6.5, 5.4, 11.7, 11.2, 0.7, 1.1,
]

tick_labels = [
    "01/01", "31/01", "02/03", "01/04", "01/05", "31/05", "30/06", "30/07", "29/08",
    "28/09", "28/10", "27/11", "27/12", "26/01", "25/02", "27/03", "26/04", "26/05",
    "25/06", "25/07", "24/08", "23/09", "23/10", "22/11", "22/12", "21/01", "20/02",
    "21/03", "20/04", "20/05", "19/06", "19/07", "18/08", "17/09", "17/10", "16/11",
    "16/12",
]
years = ["2018", "2019", "2020"]

day = np.arange(0, 1096, 2) + 1.0
df = pd.DataFrame({"day": day, "eto": eto, "tmax": tmax, "tmin": tmin,
                   "rh": rh, "rs": rs, "u2": u2})

sns.set_style("white")
plt.rcParams["font.family"] = ["Lato", "DejaVu Sans"]
plt.rcParams["font.weight"] = "bold"
plt.rcParams["mathtext.fontset"] = "custom"
plt.rcParams["mathtext.rm"] = "Lato:bold"
plt.rcParams["mathtext.it"] = "Lato:bold"
plt.rcParams["mathtext.bf"] = "Lato:bold"
for k in ["text.color", "axes.edgecolor", "xtick.color", "ytick.color", "axes.labelcolor"]:
    plt.rcParams[k] = "black"

FS_TICK = 15
FS_LAB = 17
FS_LEG = 18
C_GREEN = "#00B050"
C_TMAX = "#843C0C"
C_RS = "#C55A11"
C_U2 = "#BDD7EE"
C_RH = "#203864"
DOTS = (0, (0.1, 1.4))
LW = 2.3

fig = plt.figure(figsize=(4321 / 300, 3513 / 300), dpi=300)
ax1 = fig.add_axes([0.0905, 0.7005, 0.8503, 0.2796])
ax2 = fig.add_axes([0.0870, 0.3863, 0.8514, 0.2977])
ax3 = fig.add_axes([0.0893, 0.1375, 0.8501, 0.2328])


def only_spines(ax, keep, lw_v=1.3, lw_h=1.8):
    for name, sp in ax.spines.items():
        sp.set_visible(name in keep)
        sp.set_linewidth(lw_h if name in ("bottom", "top") else lw_v)
        sp.set_color("black")


ytick_kw = dict(direction="out", length=6, width=1.2, labelsize=FS_TICK)

# ---- top: precipitation + ETo ----
ax1.bar(np.array(p_day) + 0.5, p_mm, width=1.4, color="#5B9BD5", linewidth=0)
ax1.set_xlim(0, 1096)
ax1.set_ylim(0, 50)
ax1.set_yticks(range(0, 51, 10))
only_spines(ax1, ["left", "bottom"])
ax1.tick_params(axis="y", left=True, pad=11, **ytick_kw)
ax1.tick_params(axis="x", bottom=False, labelbottom=False)

ax1r = ax1.twinx()
sns.lineplot(data=df, x="day", y="eto", ax=ax1r, color=C_GREEN, lw=2.6,
             linestyle=DOTS, dash_capstyle="round", estimator=None, legend=False)
ax1r.set_xlim(0, 1096)
ax1r.set_ylim(0, 8)
ax1r.set_yticks(range(0, 9))
ax1r.set_xlabel("")
ax1r.set_ylabel("")
only_spines(ax1r, ["right"])
ax1r.tick_params(axis="y", right=True, left=False, labelright=True, pad=12, **ytick_kw)
ax1r.tick_params(axis="x", bottom=False, labelbottom=False)

# ---- middle: temperature ----
sns.scatterplot(data=df, x="day", y="tmax", ax=ax2, marker="D", s=28,
                color=C_TMAX, edgecolor=C_TMAX, linewidth=0.4, legend=False)
sns.scatterplot(data=df, x="day", y="tmin", ax=ax2, marker="D", s=28,
                color="#FBE5D6", edgecolor="#F4B183", linewidth=1.1, legend=False)
ax2.set_xlim(0, 1096)
ax2.set_ylim(-10, 50)
ax2.set_yticks(range(-10, 51, 10))
ax2.set_xlabel("")
ax2.set_ylabel("")
only_spines(ax2, ["left", "bottom"])
ax2.spines["bottom"].set_position(("data", 0))
ax2.tick_params(axis="y", left=True, pad=11, **ytick_kw)
ax2.tick_params(axis="x", bottom=False, labelbottom=False)

# ---- bottom: Rs, RH (left) and u2 (right) ----
ax3r = ax3.twinx()
sns.lineplot(data=df, x="day", y="u2", ax=ax3r, color=C_U2, lw=LW,
             estimator=None, legend=False)
sns.lineplot(data=df, x="day", y="rs", ax=ax3, color=C_RS, lw=LW,
             estimator=None, legend=False)
sns.lineplot(data=df, x="day", y="rh", ax=ax3, color=C_RH, lw=LW,
             estimator=None, legend=False)
ax3.set_zorder(ax3r.get_zorder() + 1)
ax3.patch.set_visible(False)
for a in (ax3, ax3r):
    a.set_xlim(0, 1096)
    a.set_xlabel("")
    a.set_ylabel("")
ax3.set_ylim(0, 100)
ax3.set_yticks(range(0, 101, 20))
ax3r.set_ylim(0, 6)
ax3r.set_yticks(range(0, 7))
only_spines(ax3, ["left", "bottom"])
only_spines(ax3r, ["right"])
ax3.tick_params(axis="y", left=True, pad=11, **ytick_kw)
ax3r.tick_params(axis="y", right=True, left=False, labelright=True, pad=12, **ytick_kw)
ax3.set_xticks(np.arange(0, 1081, 30))
ax3.set_xticklabels(tick_labels, rotation=90, fontsize=16)
ax3.tick_params(axis="x", bottom=True, direction="out", length=6, width=1.2, pad=6)
ax3r.tick_params(axis="x", bottom=False, labelbottom=False)

# ---- legends ----
fig.legend([Patch(facecolor="#2E75B6", edgecolor="#2468A8", linewidth=1),
            Line2D([], [], color=C_GREEN, lw=2.6, linestyle=DOTS, dash_capstyle="round")],
           ["P", r"ET$_\mathrm{o}$"], loc="center left", bbox_to_anchor=(0.1002, 0.9718),
           ncol=2, frameon=False, fontsize=FS_LEG, handlelength=2.1, handleheight=0.6,
           handletextpad=0.7, columnspacing=1.1, borderpad=0, borderaxespad=0)
fig.legend([Line2D([], [], ls="none", marker="D", ms=5.3, mfc=C_TMAX, mec=C_TMAX),
            Line2D([], [], ls="none", marker="D", ms=5.3, mfc="#FBE5D6", mec="#F4B183", mew=1.1)],
           [r"T$_\mathrm{max}$", r"T$_\mathrm{min}$"], loc="center left",
           bbox_to_anchor=(0.1071, 0.6718), ncol=2, frameon=False, fontsize=FS_LEG,
           handlelength=0.6, handletextpad=0.2, columnspacing=1.0, borderpad=0, borderaxespad=0)
fig.legend([Line2D([], [], color=C_RS, lw=LW), Line2D([], [], color=C_U2, lw=LW),
            Line2D([], [], color=C_RH, lw=LW)],
           [r"R$_\mathrm{s}$", r"u$_\mathrm{2}$", r"RH$_\mathrm{avg}$"], loc="center left",
           bbox_to_anchor=(0.099, 0.386), ncol=3, frameon=False, fontsize=FS_LEG,
           handlelength=2.4, handletextpad=0.3, columnspacing=1.4, borderpad=0, borderaxespad=0)

# ---- axis titles ----
lab = dict(rotation=90, ha="center", va="center", fontsize=FS_LAB)
fig.text(0.0386, 0.8403, "Precipitation (mm)", **lab)
fig.text(0.9833, 0.8688, r"ET$_\mathrm{o}$ (mm)", **lab)
fig.text(0.0389, 0.5502, "Temperature (°C)", **lab)
fig.text(0.0139, 0.2559, "Humidity (%)", **lab)
fig.text(0.0366, 0.2559, r"Solar radiation (MJ m$^{-2}$ d$^{-1}$)", **lab)
fig.text(0.9868, 0.2505, r"Wind speed (m s$^{-1}$)", **lab)

# ---- years, separators, time label ----
trans = mtransforms.blended_transform_factory(ax3.transData, fig.transFigure)
for x, yr in zip([196, 541, 887], years):
    fig.text(x, 0.0515, yr, transform=trans, ha="center", va="center", fontsize=18)
for x in [375, 735]:
    fig.add_artist(Line2D([x, x], [0.1238, 0.0424], transform=trans, color="black", lw=1.2))
fig.text(0.509, 0.0213, "Time (days)", ha="center", va="center", fontsize=18)

fig.savefig("out.png", dpi=300)
